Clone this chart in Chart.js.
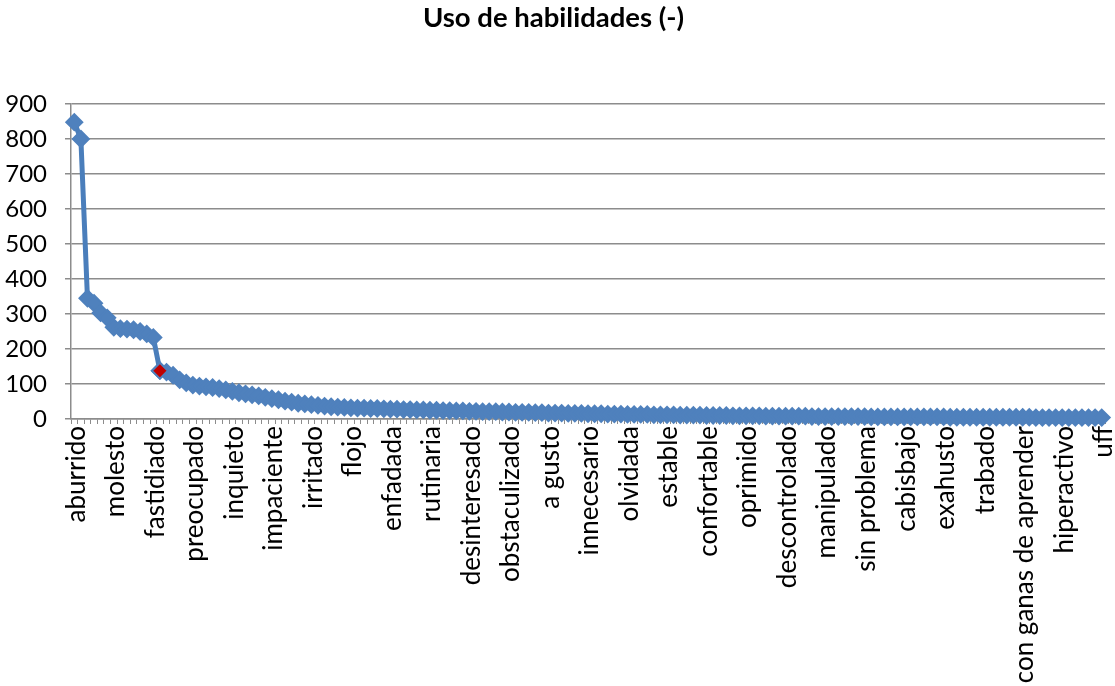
<!DOCTYPE html>
<html>
<head>
<meta charset="utf-8">
<script src="https://cdn.jsdelivr.net/npm/chart.js@4"></script>
<style>
  html, body { margin: 0; padding: 0; background: #fff; }
  #wrap { width: 1115px; height: 686px; }
</style>
</head>
<body>
<div id="wrap"><canvas id="chart"></canvas></div>
<script>
// Uso de habilidades (-)
const labelStep = 6
const shownLabels = ['aburrido', 'molesto', 'fastidiado', 'preocupado', 'inquieto', 'impaciente',
  'irritado', 'flojo', 'enfadada', 'rutinaria', 'desinteresado', 'obstaculizado', 'a gusto',
  'innecesario', 'olvidada', 'estable', 'confortable', 'oprimido', 'descontrolado', 'manipulado',
  'sin problema', 'cabisbajo', 'exahusto', 'trabado', 'con ganas de aprender', 'hiperactivo', 'uff']

const values = [
  848, 800, 345, 331, 303, 289, 262, 258, 257, 255, 250, 243, 233, 138,
  134, 125, 112, 103, 97, 94, 92, 90, 87, 83,
  79, 75, 72, 69, 66, 62, 58, 55, 51, 48,
  45, 43, 41, 39, 37, 35, 34, 33, 32, 31,
  31, 30, 30, 29, 28, 28, 27, 27, 26, 26,
  25, 25, 24, 24, 23, 23, 22, 22, 21, 21,
  21, 20, 20, 19, 19, 19, 18, 18, 17, 17,
  17, 16, 16, 16, 15, 15, 15, 14, 14, 14,
  13, 13, 13, 13, 12, 12, 12, 12, 11, 11,
  11, 11, 10, 10, 10, 10, 9, 9, 9, 9,
  9, 8, 8, 8, 8, 8, 8, 8, 7, 7,
  7, 7, 7, 7, 7, 7, 7, 6, 6, 6,
  6, 6, 6, 6, 6, 6, 6, 6, 6, 5,
  5, 5, 5, 5, 5, 5, 5, 5, 5, 5,
  5, 5, 4, 4, 4, 4, 4, 4, 4, 4,
  4, 4, 4
]
const highlightIndex = 13   // the red marker (fastidiado)
const yTicks = [0, 100, 200, 300, 400, 500, 600, 700, 800, 900]

// only every 6th category name is printed on the axis
let categories = values.map((v, i) => i % labelStep === 0 ? shownLabels[i / labelStep] : '')
let highlight = values.map((v, i) => i === highlightIndex ? v : null)

let blue = '#4F81BD'
let blueLine = '#4A7EBB'
let red = '#C00000'
let gridColor = '#8C8C8C'
let font = 'Lato, Calibri, Carlito, sans-serif'

new Chart(document.getElementById('chart'), {
  type: 'line',
  data: {
    labels: categories,
    datasets: [
      {
        label: 'Uso de habilidades (-)',
        data: values,
        order: 1,
        borderColor: blueLine,
        borderWidth: 5,
        pointStyle: 'rectRot',
        pointRadius: 8,
        pointBorderWidth: 2,
        pointBorderColor: blue,
        pointBackgroundColor: blue,
        tension: 0,
        clip: false
      },
      {
        label: 'destacado',
        data: highlight,
        order: 0,
        showLine: false,
        pointStyle: 'rectRot',
        pointRadius: 8,
        pointBorderWidth: 2,
        pointBorderColor: blue,
        pointBackgroundColor: red,
        clip: false
      }
    ]
  },
  options: {
    responsive: true,
    maintainAspectRatio: false,
    animation: false,
    layout: { padding: { left: 0, right: 8, top: 0, bottom: 0 } },
    plugins: {
      legend: { display: false },
      tooltip: { enabled: false },
      title: {
        display: true,
        text: 'Uso de habilidades (-)',
        color: '#000',
        font: { family: font, size: 27.5, weight: 'bold' },
        padding: { top: 2, bottom: 69 }
      }
    },
    scales: {
      x: {
        offset: true,
        grid: { offset: true, drawOnChartArea: false, drawTicks: true, tickLength: 5, color: gridColor },
        border: { color: gridColor, width: 1.5 },
        ticks: {
          autoSkip: false,
          minRotation: 90,
          maxRotation: 90,
          padding: 2,
          labelOffset: 2,
          color: '#000',
          font: { family: font, size: 26 }
        },
        afterFit: s => {
          s.height = 267
          s.paddingLeft = 0
          s.paddingRight = 0
        }
      },
      y: {
        min: 0,
        max: 900,
        afterBuildTicks: s => { s.ticks = yTicks.map(v => ({ value: v })) },
        grid: { color: gridColor, lineWidth: 1.5, tickLength: 6 },
        border: { color: gridColor, width: 1.5 },
        ticks: { padding: 18, color: '#000', font: { family: font, size: 24 } },
        afterFit: s => { s.width = 71 }
      }
    }
  }
})
</script>
</body>
</html>
